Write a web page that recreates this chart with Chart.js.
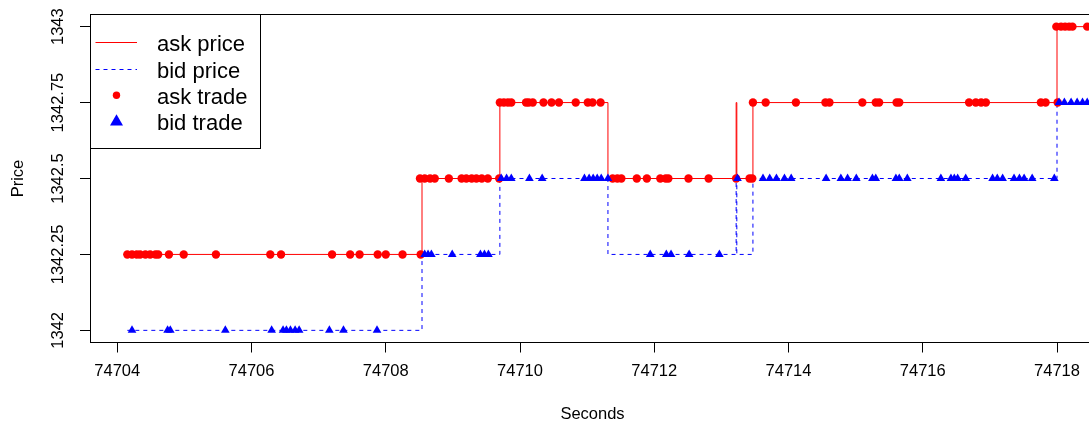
<!DOCTYPE html>
<html>
<head>
<meta charset="utf-8">
<script src="https://cdn.jsdelivr.net/npm/chart.js@4.4.1/dist/chart.umd.min.js"></script>
<style>
html, body { margin: 0; padding: 0; overflow: hidden; background: #fff; }
#wrap { width: 1100px; height: 425px; }
</style>
</head>
<body>
<div id="wrap"><canvas id="graficoPrecos" width="1100" height="425"></canvas></div>
<script>
const xTicks = [74704, 74706, 74708, 74710, 74712, 74714, 74716, 74718]
const yTicks = [1342, 1342.25, 1342.5, 1342.75, 1343]
const yTickLabels = ['1342', '1342.25', '1342.5', '1342.75', '1343']

const askPriceTimes = [74704.15, 74708.54, 74709.70, 74711.31, 74713.22, 74713.23, 74713.47, 74718.00, 74718.60]
const askPrices = [1342.25, 1342.5, 1342.75, 1342.5, 1342.75, 1342.5, 1342.75, 1343, 1343]

const bidPriceTimes = [74704.15, 74708.54, 74709.70, 74711.31, 74713.22, 74713.23, 74713.47, 74718.00, 74718.60]
const bidPrices = [1342, 1342.25, 1342.5, 1342.25, 1342.5, 1342.25, 1342.5, 1342.75, 1342.75]

const askTradeLevels = [1342.25, 1342.5, 1342.75, 1342.5, 1342.75, 1343]
const askTradeTimes = [
    [74704.15, 74704.22, 74704.29, 74704.34, 74704.42, 74704.49, 74704.57, 74704.61, 74704.77, 74704.99, 74705.47, 74706.28, 74706.44, 74707.20, 74707.47, 74707.61, 74707.88, 74708.00, 74708.25, 74708.52],
    [74708.51, 74708.58, 74708.66, 74708.73, 74708.94, 74709.13, 74709.20, 74709.28, 74709.35, 74709.43, 74709.52, 74709.69],
    [74709.70, 74709.76, 74709.82, 74709.87, 74710.09, 74710.13, 74710.19, 74710.35, 74710.47, 74710.58, 74710.83, 74711.01, 74711.08, 74711.20],
    [74711.38, 74711.45, 74711.51, 74711.74, 74711.89, 74712.09, 74712.17, 74712.21, 74712.51, 74712.81, 74713.22, 74713.42, 74713.46],
    [74713.47, 74713.66, 74714.11, 74714.55, 74714.61, 74715.10, 74715.30, 74715.35, 74715.61, 74715.65, 74716.69, 74716.79, 74716.87, 74716.94, 74717.76, 74717.83, 74718.01],
    [74717.99, 74718.06, 74718.12, 74718.18, 74718.23, 74718.45]
]

const bidTradeLevels = [1342, 1342.25, 1342.5, 1342.25, 1342.5, 1342.75]
const bidTradeTimes = [
    [74704.22, 74704.75, 74704.79, 74705.61, 74706.30, 74706.47, 74706.52, 74706.58, 74706.65, 74706.71, 74707.16, 74707.37, 74707.87],
    [74708.58, 74708.63, 74708.68, 74708.99, 74709.41, 74709.47, 74709.53],
    [74709.72, 74709.80, 74709.87, 74710.14, 74710.33, 74710.96, 74711.03, 74711.09, 74711.15, 74711.21, 74711.31],
    [74711.94, 74712.18, 74712.25, 74712.52, 74712.97],
    [74713.24, 74713.62, 74713.72, 74713.82, 74713.94, 74714.04, 74714.56, 74714.78, 74714.88, 74715.01, 74715.25, 74715.30, 74715.60, 74715.65, 74715.77, 74716.27, 74716.42, 74716.47, 74716.52, 74716.64, 74717.04, 74717.11, 74717.19, 74717.36, 74717.44, 74717.51, 74717.63, 74717.96],
    [74718.03, 74718.11, 74718.21, 74718.30, 74718.38, 74718.45]
]

const legendLabels = ['ask price', 'bid price', 'ask trade', 'bid trade']

const familia = "'Liberation Sans', Arial, Helvetica, sans-serif"

function pontosPorNivel(niveis, tempos) {
    let pontos = []
    for (let i = 0; i < niveis.length; i++) {
        tempos[i].forEach(t => pontos.push({ x: t, y: niveis[i] }))
    }
    return pontos
}

const askLine = askPriceTimes.map((t, i) => ({ x: t, y: askPrices[i] }))
const bidLine = bidPriceTimes.map((t, i) => ({ x: t, y: bidPrices[i] }))

const moldura = {
    id: 'moldura',
    afterDraw(chart) {
        const ctx = chart.ctx
        const a = chart.chartArea
        const escalaY = chart.scales.y
        ctx.save()

        ctx.strokeStyle = '#000'
        ctx.lineWidth = 1
        ctx.strokeRect(Math.round(a.left) + 0.5, a.top, a.right - a.left, a.bottom - a.top)

        ctx.fillStyle = '#000'
        ctx.font = `16.5px ${familia}`
        ctx.textAlign = 'center'
        ctx.textBaseline = 'middle'
        yTicks.forEach((v, i) => {
            ctx.save()
            ctx.translate(58.5, escalaY.getPixelForValue(v))
            ctx.rotate(-Math.PI / 2)
            ctx.fillText(yTickLabels[i], 0, 0)
            ctx.restore()
        })
        ctx.save()
        ctx.translate(18.5, (a.top + a.bottom) / 2)
        ctx.rotate(-Math.PI / 2)
        ctx.fillText('Price', 0, 0)
        ctx.restore()

        // legenda no canto superior esquerdo
        ctx.fillStyle = '#fff'
        ctx.fillRect(90.5, 14.5, 170, 134)
        ctx.strokeRect(90.5, 14.5, 170, 134)

        const base = 51.3
        const passo = 26.33
        ctx.lineWidth = 1
        ctx.strokeStyle = 'red'
        ctx.beginPath()
        ctx.moveTo(95.5, 42.5)
        ctx.lineTo(137, 42.5)
        ctx.stroke()

        ctx.strokeStyle = 'blue'
        ctx.setLineDash([4, 4])
        ctx.beginPath()
        ctx.moveTo(95.5, 69.5)
        ctx.lineTo(137, 69.5)
        ctx.stroke()
        ctx.setLineDash([])

        ctx.fillStyle = 'red'
        ctx.beginPath()
        ctx.arc(116.5, base + 2 * passo - 8.7, 3.7, 0, 2 * Math.PI)
        ctx.fill()

        const r = 7.5
        const cy = base + 3 * passo - 8.5
        ctx.fillStyle = 'blue'
        ctx.beginPath()
        ctx.moveTo(116.5, cy - r)
        ctx.lineTo(116.5 + r * Math.sin(2 * Math.PI / 3), cy + r / 2)
        ctx.lineTo(116.5 - r * Math.sin(2 * Math.PI / 3), cy + r / 2)
        ctx.closePath()
        ctx.fill()

        ctx.fillStyle = '#000'
        ctx.font = `22px ${familia}`
        ctx.textAlign = 'left'
        ctx.textBaseline = 'alphabetic'
        legendLabels.forEach((txt, i) => ctx.fillText(txt, 157, base + i * passo))

        ctx.restore()
    }
}

window.graficoPrecos = new Chart(document.getElementById('graficoPrecos'), {
    type: 'line',
    data: {
        datasets: [
            {
                type: 'scatter',
                label: 'bid trade',
                data: pontosPorNivel(bidTradeLevels, bidTradeTimes),
                pointStyle: 'triangle',
                pointRadius: 5,
                backgroundColor: 'blue',
                borderWidth: 0,
                order: 0
            },
            {
                type: 'scatter',
                label: 'ask trade',
                data: pontosPorNivel(askTradeLevels, askTradeTimes),
                pointStyle: 'circle',
                pointRadius: 4.2,
                backgroundColor: 'red',
                borderWidth: 0,
                order: 1
            },
            {
                label: 'ask price',
                data: askLine,
                stepped: 'before',
                borderColor: 'red',
                borderWidth: 1,
                pointRadius: 0,
                fill: false,
                order: 2
            },
            {
                label: 'bid price',
                data: bidLine,
                stepped: 'before',
                borderColor: 'blue',
                borderDash: [4, 4],
                borderWidth: 1,
                pointRadius: 0,
                fill: false,
                order: 3
            }
        ]
    },
    options: {
        responsive: false,
        animation: false,
        events: [],
        layout: {
            padding: { left: 0, right: 4, top: 14.5, bottom: 0 }
        },
        plugins: {
            legend: { display: false },
            tooltip: { enabled: false }
        },
        scales: {
            x: {
                type: 'linear',
                min: 74703.594,
                max: 74718.566,
                afterBuildTicks: escala => { escala.ticks = xTicks.map(v => ({ value: v })) },
                afterFit: escala => { escala.height = 82.5 },
                border: { display: false },
                grid: {
                    drawOnChartArea: false,
                    drawTicks: true,
                    tickLength: 10,
                    color: '#000'
                },
                ticks: {
                    color: '#000',
                    padding: 9,
                    maxRotation: 0,
                    autoSkip: false,
                    font: { family: familia, size: 16.5 },
                    callback: v => String(v)
                },
                title: {
                    display: true,
                    text: 'Seconds',
                    color: '#000',
                    font: { family: familia, size: 16.5 },
                    padding: { top: 0, bottom: 1 }
                }
            },
            y: {
                type: 'linear',
                min: 1341.96,
                max: 1343.04,
                afterBuildTicks: escala => { escala.ticks = yTicks.map(v => ({ value: v })) },
                afterFit: escala => { escala.width = 90 },
                border: { display: false },
                grid: {
                    drawOnChartArea: false,
                    drawTicks: true,
                    tickLength: 10,
                    color: '#000'
                },
                ticks: { display: false }
            }
        }
    },
    plugins: [moldura]
})
</script>
</body>
</html>
